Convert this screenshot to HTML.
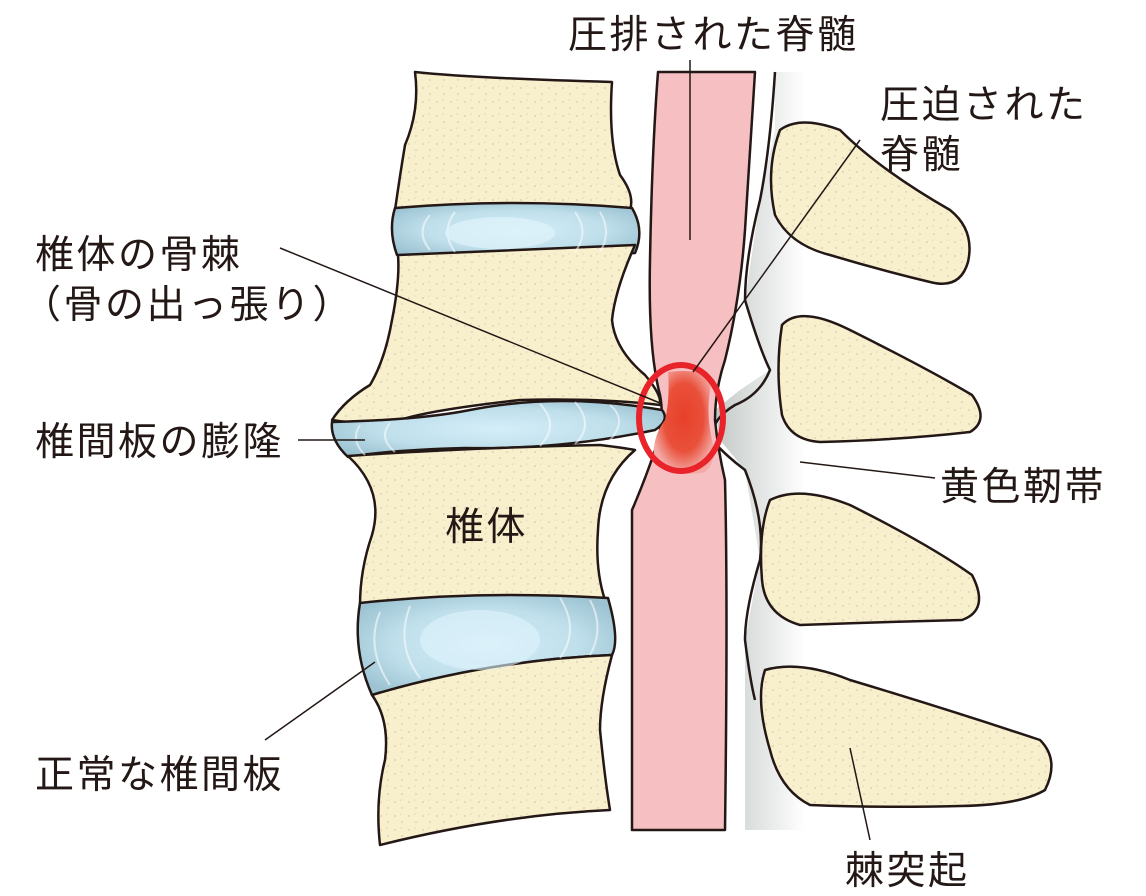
<!DOCTYPE html>
<html><head><meta charset="utf-8"><style>
html,body{margin:0;padding:0;background:#fff;width:1146px;height:896px;overflow:hidden}
svg{display:block}
text{font-family:"Liberation Sans","Noto Sans CJK JP",sans-serif;font-size:39px;fill:#231815;letter-spacing:2.5px}
</style></head><body>
<svg width="1146" height="896" viewBox="0 0 1146 896">
<defs>
<linearGradient id="lig" x1="0" x2="1" y1="0" y2="0">
<stop offset="0" stop-color="#c4cac8"/><stop offset="1" stop-color="#ffffff"/></linearGradient>
<radialGradient id="disc" cx="0.5" cy="0.5" r="0.6">
<stop offset="0" stop-color="#d4eef9"/><stop offset="0.6" stop-color="#bfdfeb"/><stop offset="1" stop-color="#9dc3d2"/></radialGradient>
<radialGradient id="red" cx="0.5" cy="0.45" r="0.55">
<stop offset="0" stop-color="#e8402a"/><stop offset="0.6" stop-color="#e9503a"/><stop offset="1" stop-color="#f3aaa6"/></radialGradient>
<pattern id="sp" width="14" height="14" patternUnits="userSpaceOnUse">
<rect width="14" height="14" fill="#f8efcd"/><circle cx="3" cy="4" r="1" fill="#ddd4ba"/><circle cx="10" cy="10" r="1" fill="#ddd4ba"/><circle cx="9" cy="2" r="0.8" fill="#e2dac2"/></pattern>
</defs>
<g stroke="#231815" stroke-width="2.5" stroke-linejoin="round">
<path d="M775 72 L805 72 L805 830 L745 830 L745 640 L760 560 L745 470 L720 440 L715 410 L740 390 L770 370 L745 300 L760 200 L775 130 Z" fill="url(#lig)" stroke="none"/>
<path d="M775 72 Q770 150 760 200 Q745 260 745 300 Q760 350 770 370 Q760 395 735 405 Q710 420 712 440 Q725 455 745 470 Q765 520 760 560 Q745 610 745 640 Q750 680 755 700" fill="none"/>
<path d="M658 72 L755 72 Q750 150 745 230 Q740 300 725 360 Q715 390 715 420 Q718 450 725 480 Q728 600 725 830 L632 830 Q632 600 632 510 Q645 480 655 450 Q665 420 660 395 Q648 350 650 260 Q652 150 658 72 Z" fill="#f6bfc1"/>
<path d="M415 72 Q470 78 612 82 Q608 140 620 175 Q635 195 630 210 L395 210 Q400 175 405 145 Q420 110 415 72 Z" fill="url(#sp)"/>
<path d="M395 208 Q515 198 632 208 Q645 230 635 253 Q515 260 397 255 Q388 230 395 208 Z" fill="url(#disc)"/>
<path d="M398 255 Q515 250 635 245 Q615 290 612 320 Q615 350 645 375 Q662 395 660 405 Q600 398 520 400 Q430 410 400 420 Q360 425 332 420 Q345 400 370 385 Q385 360 392 320 Q400 280 398 255 Z" fill="url(#sp)"/>
<path d="M332 422 Q420 420 470 410 Q560 392 662 410 Q670 420 655 430 Q560 450 465 448 Q390 450 348 457 Q330 440 332 422 Z" fill="url(#disc)"/>
<path d="M348 456 Q460 448 600 445 Q625 448 635 450 Q600 480 598 530 Q595 570 605 600 L360 605 Q360 570 372 535 Q385 490 348 456 Z" fill="url(#sp)"/>
<path d="M360 603 Q480 590 608 598 Q620 640 612 655 Q490 660 372 695 Q352 650 360 603 Z" fill="url(#disc)"/>
<path d="M372 695 Q490 660 612 655 Q600 700 600 730 Q605 780 610 810 Q500 815 380 845 Q375 800 385 760 Q390 720 372 695 Z" fill="url(#sp)"/>
<path d="M780 130 Q800 115 840 130 Q880 170 950 210 Q975 230 968 262 Q960 290 930 282 Q880 270 830 255 Q790 245 775 215 Q765 170 780 130 Z" fill="url(#sp)"/>
<path d="M782 325 Q800 305 850 330 Q930 370 972 395 Q990 420 970 432 Q900 440 820 442 Q790 440 782 415 Q775 370 782 325 Z" fill="url(#sp)"/>
<path d="M770 500 Q800 485 850 505 Q930 545 972 575 Q990 610 962 620 Q880 622 800 625 Q765 615 762 580 Q758 530 770 500 Z" fill="url(#sp)"/>
<path d="M765 670 Q800 660 850 680 Q950 710 1040 740 Q1060 760 1045 790 Q1020 805 960 806 Q880 808 810 805 Q780 790 770 750 Q755 700 765 670 Z" fill="url(#sp)"/>
</g>
<g fill="none" stroke="#fff" stroke-opacity="0.55" stroke-width="2">
<path d="M430 215 Q415 232 430 250 M455 212 Q440 232 455 252 M575 212 Q590 232 575 252 M600 212 Q612 232 600 252"/>
<path d="M360 425 Q350 440 365 455 M390 423 Q378 438 395 452 M540 404 Q560 425 540 446 M575 402 Q595 425 575 444 M610 405 Q628 420 610 440"/>
<path d="M380 612 Q365 648 390 685 M410 606 Q395 645 420 678 M560 598 Q580 630 560 658 M590 600 Q605 628 590 655"/>
</g>
<ellipse cx="500" cy="233" rx="55" ry="16" fill="#e0f4fb" opacity="0.7"/>
<ellipse cx="480" cy="640" rx="60" ry="30" fill="#e0f4fb" opacity="0.6"/>
<path d="M668 372 Q700 368 712 380 Q705 410 712 440 Q718 460 705 472 Q680 478 655 465 Q650 440 665 420 Q670 400 668 372 Z" fill="url(#red)"/>
<ellipse cx="681" cy="418" rx="42" ry="53" fill="none" stroke="#e8232a" stroke-width="6"/>
<g stroke="#231815" stroke-width="1.5">
<line x1="280" y1="248" x2="660" y2="403"/>
<line x1="298" y1="440" x2="365" y2="440"/>
<line x1="265" y1="740" x2="375" y2="662"/>
<line x1="860" y1="140" x2="693" y2="372"/>
<line x1="800" y1="462" x2="935" y2="478"/>
<line x1="850" y1="748" x2="870" y2="840"/>
<line x1="690" y1="60" x2="690" y2="240"/>
</g>
<text x="568" y="48">圧排された脊髄</text>
<text x="880" y="118">圧迫された</text>
<text x="880" y="168">脊髄</text>
<text x="35" y="268">椎体の骨棘</text>
<text x="22" y="318">（骨の出っ張り）</text>
<text x="35" y="455">椎間板の膨隆</text>
<text x="445" y="540">椎体</text>
<text x="940" y="500">黄色靭帯</text>
<text x="35" y="788">正常な椎間板</text>
<text x="845" y="884">棘突起</text>
</svg>
</body></html>
